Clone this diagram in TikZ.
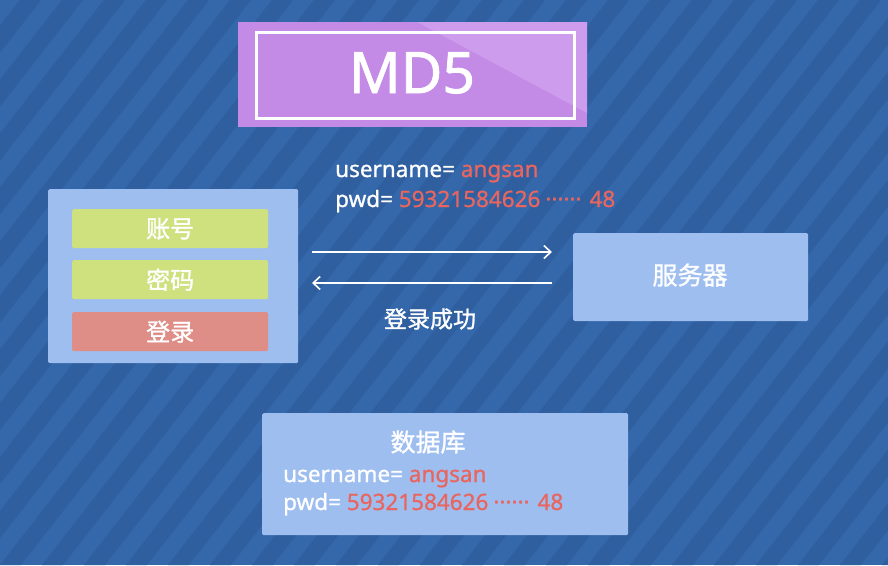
\documentclass[tikz,border=0pt]{standalone}
\usepackage{fontspec}
\setmainfont{Noto Sans}[FakeBold=0.9]
\newfontfamily\cjk{Noto Sans CJK SC}[FakeBold=1.2]
\newfontfamily\titlefont{Noto Sans}[FakeBold=1.5]
\usetikzlibrary{arrows.meta}
\definecolor{bgA}{HTML}{3468AA}
\definecolor{bgB}{HTML}{2F5F9F}
\definecolor{panelblue}{HTML}{9EBEF0}
\definecolor{greenbox}{HTML}{CFE07F}
\definecolor{redbox}{HTML}{DE8E87}
\definecolor{purA}{HTML}{C38AE6}
\definecolor{purB}{HTML}{CD9CEC}
\definecolor{redtxt}{HTML}{E8665F}
\tikzset{
  lightbox/.style={fill=panelblue, draw=none, rounded corners=1.5pt, inner sep=0pt, anchor=north west},
  fieldbox/.style={rounded corners=1.5pt, inner sep=0pt, anchor=north west, minimum width=196pt, minimum height=39pt, text=white, font=\cjk\fontsize{24}{24}\selectfont},
  cjklabel/.style={text=white, font=\cjk\fontsize{24}{24}\selectfont, inner sep=0pt},
  latinline/.style={text=white, font=\fontsize{22.5}{22.5}\selectfont, anchor=base west, inner sep=0pt},
  arr/.style={white, line width=1.6pt, -{Straight Barb[length=7pt,width=13pt,line width=1.6pt]}}
}
\newcommand{\pwdvalue}{\textcolor{redtxt}{59321584626\hspace{5pt}······\hspace{8pt}48}}
\begin{document}
\begin{tikzpicture}[x=1pt,y=-1pt]
\useasboundingbox (0,0) rectangle (888,565);
% background
\begin{scope}
\clip (0,0) rectangle (888,565);
\fill[bgA] (0,0) rectangle (888,565);
\foreach \a in {-462,-420,...,900}
  \fill[bgB] (\a,565) -- ++(21,0) -- ++(440,-565) -- ++(-21,0) -- cycle;
\end{scope}
% MD5 title
\node[fill=purA, inner sep=0pt, anchor=north west, minimum width=349pt, minimum height=105pt] (title) at (238,22) {};
\begin{scope}
\clip (238,22) rectangle (587,127);
\fill[purB] (417,22) -- (587,22) -- (587,113) -- cycle;
\end{scope}
\node[draw=white, line width=3pt, inner sep=0pt, anchor=north west, minimum width=318pt, minimum height=86pt] (frame) at (254.5,30.5) {};
\node[text=white, font=\titlefont\fontsize{57}{57}\selectfont, inner sep=0pt] (md5) at (412,73) {MD5};
% left panel
\node[lightbox, minimum width=250pt, minimum height=174pt] (panel) at (48,189) {};
\node[fieldbox, fill=greenbox] (acct) at (72,209) {账号};
\node[fieldbox, fill=greenbox] (pwdf) at (72,260) {密码};
\node[fieldbox, fill=redbox] (login) at (72,312) {登录};
% request text
\node[latinline] (req1) at (335,177) {username= \textcolor{redtxt}{angsan}};
\node[latinline] (req2) at (335,207) {pwd= \pwdvalue};
% server
\node[lightbox, minimum width=235pt, minimum height=88pt] (server) at (573,233) {};
\node[cjklabel, font=\cjk\fontsize{25}{25}\selectfont] (serverlbl) at (690,275) {服务器};
% arrows
\coordinate (r1) at (312,252);
\coordinate (r2) at (552,252);
\coordinate (l1) at (552,283);
\coordinate (l2) at (312,283);
\draw[arr] (r1) -- (r2);
\draw[arr] (l1) -- (l2);
\node[cjklabel, font=\cjk\fontsize{23}{23}\selectfont] (ok) at (430,319) {登录成功};
% database
\node[lightbox, minimum width=366pt, minimum height=122pt] (db) at (262,413) {};
\node[cjklabel, font=\cjk\fontsize{25}{25}\selectfont] (dblbl) at (428,442) {数据库};
\node[latinline] (db1) at (283,482) {username= \textcolor{redtxt}{angsan}};
\node[latinline] (db2) at (283,510) {pwd= \pwdvalue};
\end{tikzpicture}
\end{document}
